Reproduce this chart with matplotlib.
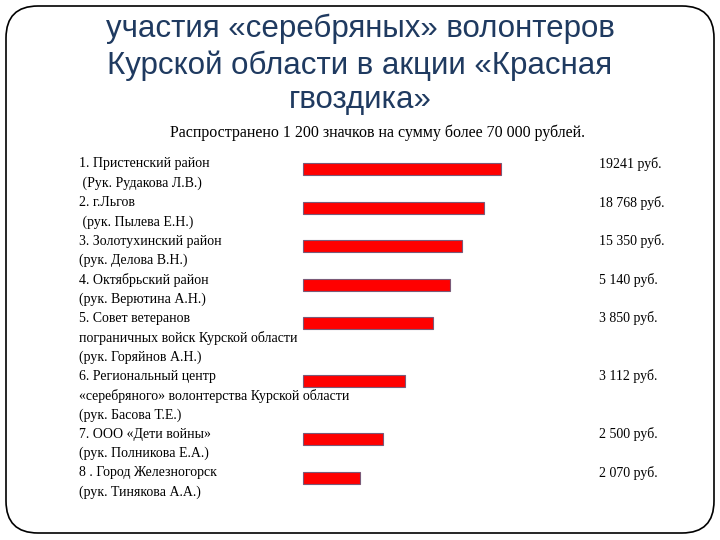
import matplotlib
matplotlib.use('Agg')
import matplotlib.pyplot as plt
from matplotlib.patches import FancyBboxPatch

# slide texts
title_lines = ['участия «серебряных» волонтеров',
               'Курской области в акции «Красная',
               'гвоздика»']
subtitle = 'Распространено 1 200 значков на сумму более 70 000 рублей.'

# each item: its text lines
items = [
    ['1. Пристенский район', ' (Рук. Рудакова Л.В.)'],
    ['2. г.Льгов', ' (рук. Пылева Е.Н.)'],
    ['3. Золотухинский район', '(рук. Делова В.Н.)'],
    ['4. Октябрьский район', '(рук. Верютина А.Н.)'],
    ['5. Совет ветеранов', 'пограничных войск Курской области', '(рук. Горяйнов А.Н.)'],
    ['6. Региональный центр', '«серебряного» волонтерства Курской области', '(рук. Басова Т.Е.)'],
    ['7. ООО «Дети войны»', '(рук. Полникова Е.А.)'],
    ['8 . Город Железногорск', '(рук. Тинякова А.А.)'],
]
amounts = ['19241 руб.', '18 768 руб.', '15 350 руб.', '5 140 руб.',
           '3 850 руб.', '3 112 руб.', '2 500 руб.', '2 070 руб.']
# bar lengths as drawn on the slide (not proportional to the sums)
bar_len = [198, 181, 159, 147, 130, 102, 80, 57]

fig = plt.figure(figsize=(7.2, 5.4), dpi=100)
ax = fig.add_axes([0, 0, 1, 1])
ax.set_xlim(0, 720)
ax.set_ylim(540, 0)
ax.axis('off')

# rounded frame
frame = FancyBboxPatch((6, 6), 708, 527, boxstyle='round,pad=0,rounding_size=32',
                       fc='white', ec='black', lw=1.2, zorder=0)
ax.add_patch(frame)

title_y = [29, 66, 100]
for t, y in zip(title_lines, title_y):
    ax.text(360, y, t, ha='center', va='center', fontsize=22.5,
            family='Liberation Sans', color='#1F3A60')

ax.text(378, 133, subtitle, ha='center', va='center', fontsize=11.5,
        family='Liberation Serif', color='black')

y0 = 164
step = 19.3
line = 0
bar_y = []
amt_y = []
for it in items:
    bar_y.append(y0 + line * step + 5)
    amt_y.append(y0 + line * step)
    for t in it:
        ax.text(79, y0 + line * step, t, ha='left', va='center', fontsize=10,
                family='Liberation Serif', color='black')
        line += 1

ax.barh(bar_y, bar_len, left=303, height=12, color='#FF0000',
        edgecolor='#7A5A78', linewidth=0.8, zorder=1)

for a, y in zip(amounts, amt_y):
    ax.text(599, y, a, ha='left', va='center', fontsize=10,
            family='Liberation Serif', color='black')

fig.savefig('out.png', dpi=100)
